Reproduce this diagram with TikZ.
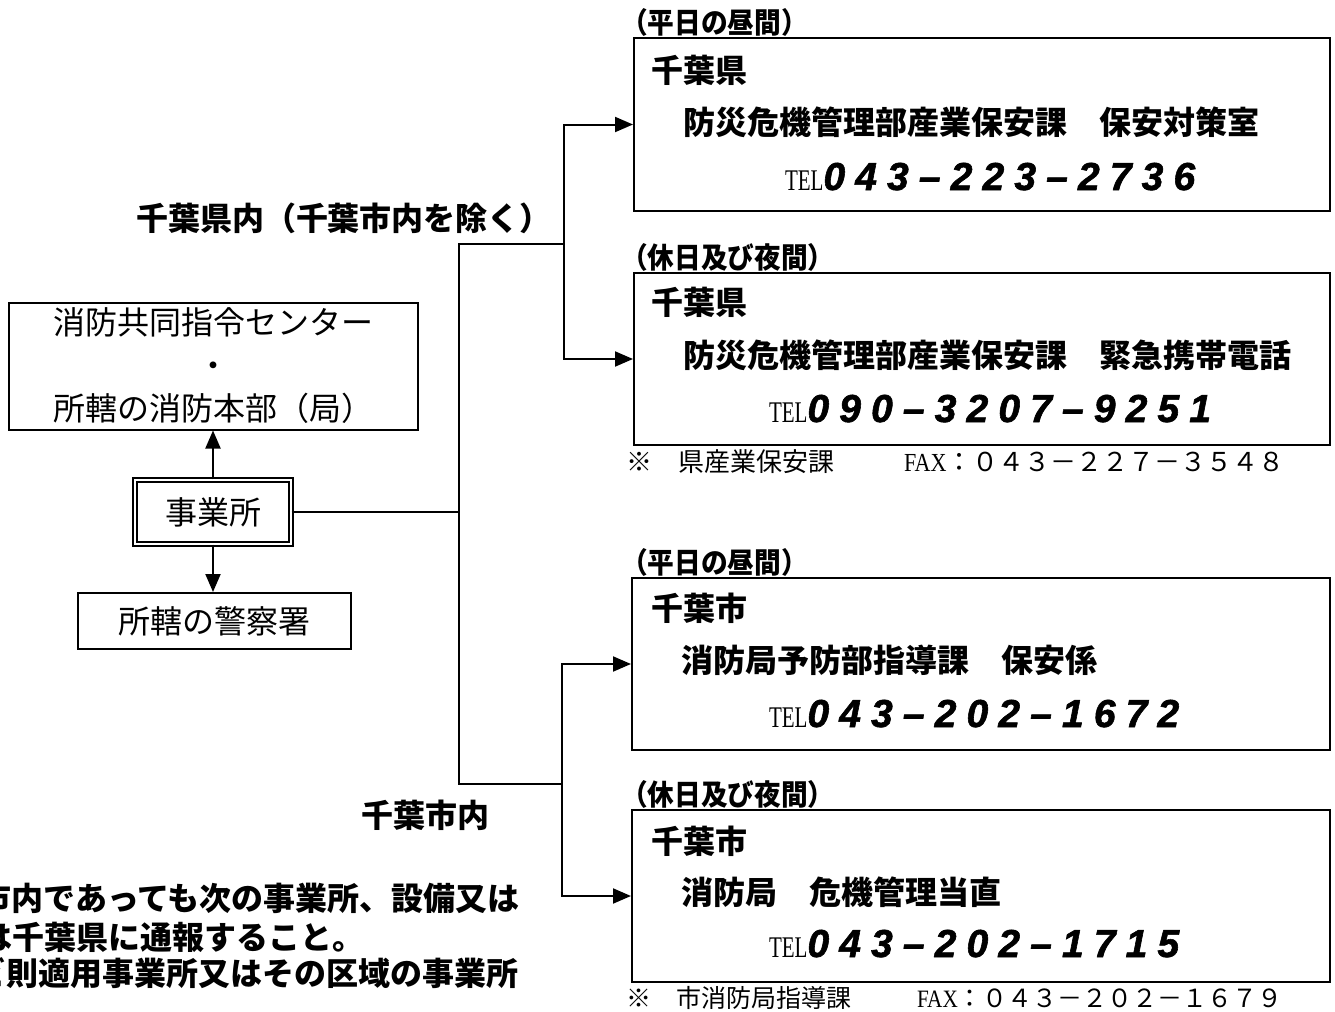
\documentclass[tikz,border=0pt]{standalone}
\usepackage{fontspec}
\usetikzlibrary{arrows.meta}
\newfontfamily\jpfont{Noto Sans CJK JP}
\newfontfamily\jpnarrow[FakeStretch=0.92]{Noto Sans CJK JP}
\newfontfamily\telfont[FakeStretch=0.7]{Liberation Serif}
\newfontfamily\faxfont[FakeStretch=0.85]{Liberation Serif}
\newfontfamily\numfont[LetterSpace=26,FakeBold=1.5]{Liberation Sans}
\newcommand{\telno}[1]{{\fontsize{15}{15}\selectfont\telfont TEL}{\fontsize{19.5}{20}\selectfont\numfont\bfseries\itshape #1}}
\begin{document}
\begin{tikzpicture}[x=0.5pt,y=-0.5pt,line width=1pt,
frame/.style={
% The shape:
rectangle,
draw=black,
inner sep=0pt
},
dframe/.style={
rectangle,draw=black,double,double distance=1.4pt,line width=0.6pt,
inner sep=0pt
},
plain/.style={font=\fontsize{16}{21.5}\selectfont\jpfont,align=center},
bold/.style={anchor=west,inner sep=0pt,font=\fontsize{16}{16}\selectfont\jpfont\bfseries},
when/.style={anchor=west,inner sep=0pt,font=\fontsize{14.5}{14.5}\selectfont\jpnarrow\bfseries},
phone/.style={anchor=base west,inner sep=0pt},
note/.style={anchor=west,inner sep=0pt,font=\fontsize{13}{13}\selectfont\jpfont},
arr/.style={-{Triangle[length=9pt,width=7.5pt]}}
]
\path[fill=white] (0,0) rectangle (1335,1012);
\clip (0,0) rectangle (1335,1012);
% Left side:
\node (centre) [frame,plain,minimum width=204.5pt,minimum height=63.5pt] at (213.5,366) {消防共同指令センター\\・\\所轄の消防本部（局）};
\node (office) [dframe,plain,minimum width=78pt,minimum height=32pt] at (213,512) {事業所};
\node (police) [frame,plain,minimum width=136.5pt,minimum height=28pt] at (214.5,621) {所轄の警察署};
\draw[arr] (office.north) -- (office.north |- centre.south);
\draw[arr] (office.south) -- (office.south |- police.north);
% Right side boxes:
\node (kenday) [frame,minimum width=348pt,minimum height=86.5pt] at (982,124.5) {};
\node (kennight) [frame,minimum width=348pt,minimum height=86pt] at (982,359) {};
\node (cityday) [frame,minimum width=349pt,minimum height=86pt] at (981,664) {};
\node (citynight) [frame,minimum width=349pt,minimum height=86pt] at (981,896) {};
\node (kendaylbl) [when] at (620,22) {（平日の昼間）};
\node (kennightlbl) [when] at (620,257) {（休日及び夜間）};
\node (citydaylbl) [when] at (620,562) {（平日の昼間）};
\node (citynightlbl) [when] at (620,794) {（休日及び夜間）};
\node (kendayorg) [bold] at (650,70) {千葉県};
\node (kendaysec) [bold] at (682,122) {防災危機管理部産業保安課　保安対策室};
\node (kendaytel) [phone] at (784,190) {\telno{043–223–2736}};
\node (kennightorg) [bold] at (650,302) {千葉県};
\node (kennightsec) [bold] at (682,355) {防災危機管理部産業保安課　緊急携帯電話};
\node (kennighttel) [phone] at (768,422) {\telno{090–3207–9251}};
\node (kenfax) [note] at (625,462) {※　県産業保安課\hspace{35pt}{\faxfont FAX}：０４３－２２７－３５４８};
\node (citydayorg) [bold] at (650,608) {千葉市};
\node (citydaysec) [bold] at (680,660) {消防局予防部指導課　保安係};
\node (citydaytel) [phone] at (768,727) {\telno{043–202–1672}};
\node (citynightorg) [bold] at (650,841) {千葉市};
\node (citynightsec) [bold] at (680,892) {消防局　危機管理当直};
\node (citynighttel) [phone] at (768,957) {\telno{043–202–1715}};
\node (cityfax) [note,font=\fontsize{12.5}{12.5}\selectfont\jpfont] at (625,998) {※　市消防局指導課\hspace{33pt}{\faxfont FAX}：０４３－２０２－１６７９};
% Branches:
\coordinate (trunk) at (459,512);
\coordinate (kenfork) at (564,244);
\coordinate (cityfork) at (562,784);
\node (kenlbl) [bold] at (135,218) {千葉県内（千葉市内を除く）};
\node (citylbl) [bold] at (360,815) {千葉市内};
\draw (office.east) -- (trunk);
\draw (kenfork) -| (trunk) |- (cityfork);
\draw[arr] (kenfork) |- (kenday.west);
\draw[arr] (kenfork) |- (kennight.west);
\draw[arr] (cityfork) |- (cityday.west);
\draw[arr] (cityfork) |- (citynight.west);
% Note below (cut at the edge, as in the source):
\node (note1) [bold,anchor=east] at (521,898) {千葉市内であっても次の事業所、設備又は};
\node (note2) [bold] at (-20,937) {は千葉県に通報すること。};
\node (note3) [bold,anchor=east] at (520,973) {コンビ則適用事業所又はその区域の事業所};
\end{tikzpicture}
\end{document}
